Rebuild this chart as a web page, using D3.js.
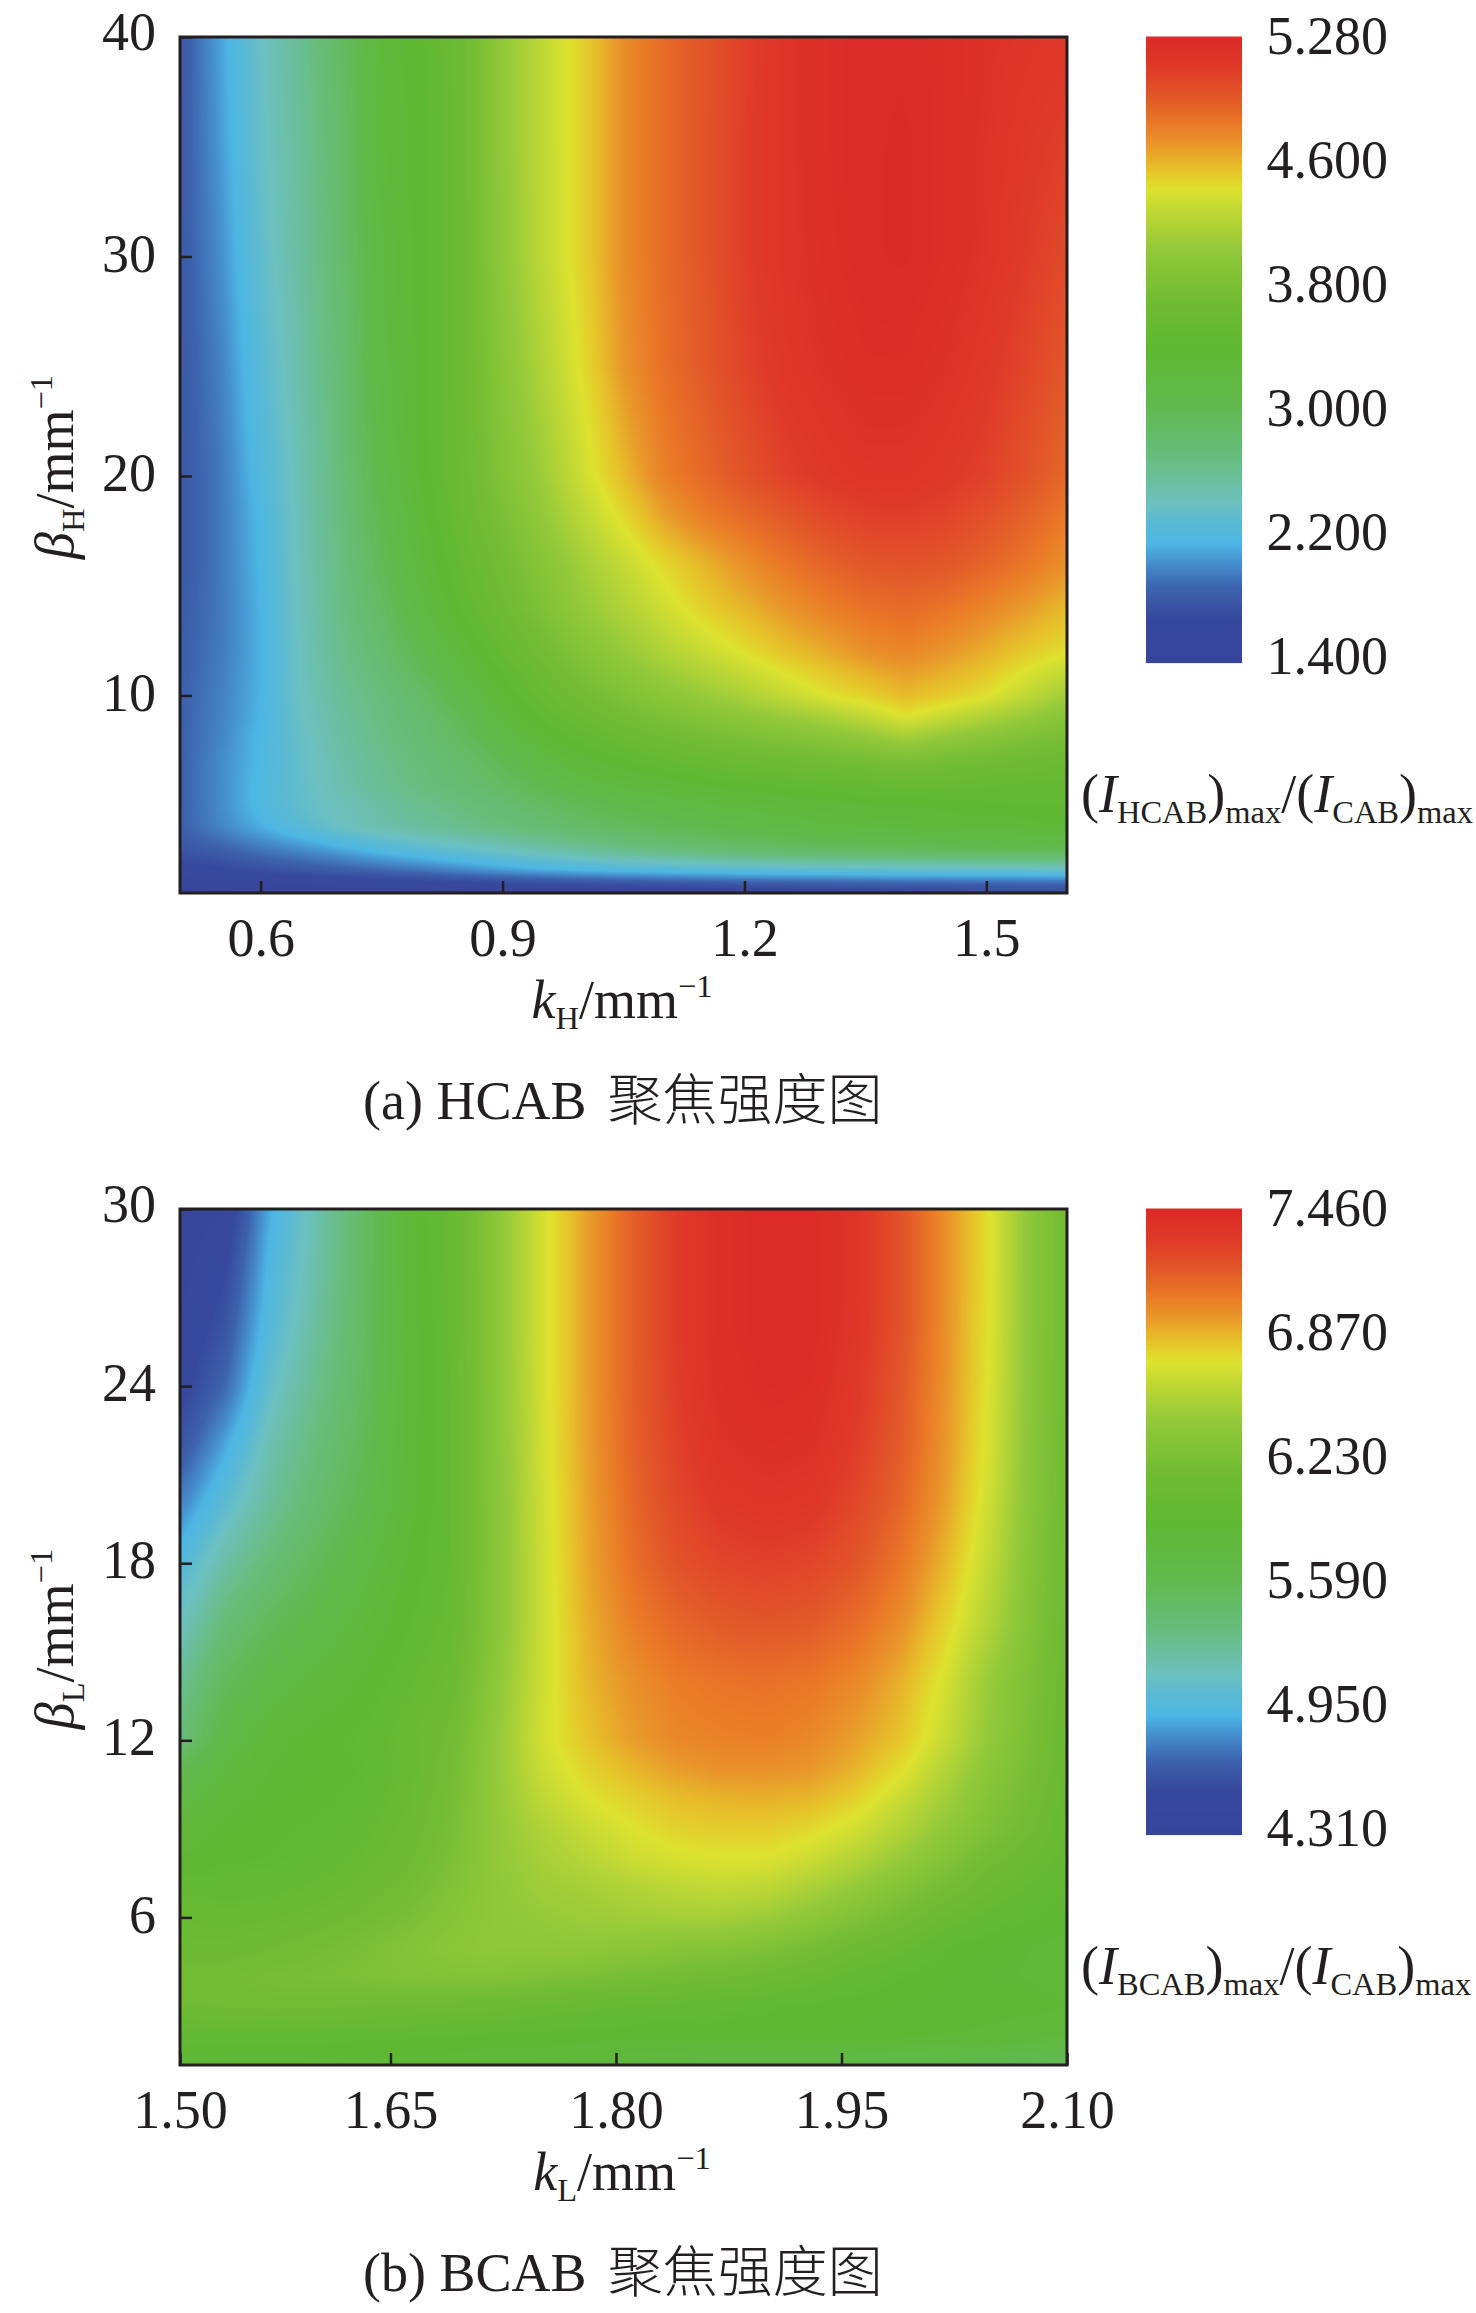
<!DOCTYPE html>
<html>
<head>
<meta charset="utf-8">
<script src="https://cdn.jsdelivr.net/npm/d3@7.9.0/dist/d3.min.js"></script>
<style>
  html, body { margin: 0; padding: 0; background: #fff; }
  svg { display: block; }
  text { font-family: "Liberation Serif", serif; font-size: 54px; fill: #231f20; }
  .sub { font-size: 32.5px; }
  .cjk { font-family: "Noto Sans CJK SC", sans-serif; font-size: 55px; font-weight: 300; }
</style>
</head>
<body>
<svg id="fig" width="1476" height="2313"></svg>
<script>
// values
const kH = [0.5,0.55,0.6,0.65,0.7,0.75,0.8,0.85,0.9,0.95,1.0,1.05,1.1,1.15,1.2,1.25,1.3,1.35,1.4,1.45,1.5,1.55,1.6];
const betaH = [1,1.5,2,3,4,5,6,7,8,9,10,12,14,16,18,20,25,30,35,40];
const intensityH = [
  [1.42,1.42,1.43,1.44,1.45,1.46,1.47,1.48,1.49,1.5,1.5,1.51,1.52,1.53,1.54,1.55,1.56,1.58,1.6,1.62,1.64,1.66,1.68],
  [1.47,1.5,1.52,1.55,1.58,1.62,1.65,1.68,1.72,1.75,1.78,1.8,1.82,1.84,1.86,1.87,1.88,1.89,1.9,1.9,1.91,1.91,1.92],
  [1.6,1.66,1.72,1.78,1.83,1.88,1.93,2.0,2.07,2.12,2.16,2.19,2.21,2.23,2.25,2.27,2.28,2.29,2.3,2.31,2.32,2.33,2.34],
  [1.78,1.85,1.95,2.03,2.12,2.22,2.3,2.37,2.44,2.52,2.6,2.68,2.74,2.8,2.85,2.9,2.93,2.96,2.98,3.0,3.02,3.03,3.05],
  [1.85,2.0,2.14,2.28,2.42,2.5,2.58,2.65,2.72,2.8,2.87,2.93,3.0,3.05,3.1,3.15,3.2,3.23,3.25,3.28,3.3,3.32,3.35],
  [1.85,2.02,2.2,2.35,2.45,2.55,2.64,2.72,2.8,2.9,3.0,3.08,3.14,3.2,3.25,3.29,3.32,3.35,3.37,3.39,3.41,3.43,3.45],
  [1.85,2.02,2.2,2.36,2.5,2.62,2.72,2.8,2.92,3.05,3.18,3.26,3.32,3.38,3.42,3.46,3.5,3.53,3.56,3.55,3.53,3.51,3.5],
  [1.85,2.02,2.18,2.36,2.52,2.64,2.74,2.85,3.0,3.18,3.32,3.42,3.5,3.56,3.62,3.66,3.7,3.75,3.8,3.75,3.7,3.65,3.6],
  [1.85,2.0,2.18,2.38,2.55,2.68,2.78,2.92,3.12,3.32,3.47,3.57,3.66,3.74,3.8,3.86,3.92,4.0,4.1,4.0,3.92,3.83,3.75],
  [1.85,1.99,2.16,2.4,2.57,2.7,2.82,3.0,3.25,3.45,3.6,3.72,3.82,3.9,3.98,4.06,4.15,4.27,4.42,4.3,4.18,4.05,3.92],
  [1.85,1.98,2.15,2.42,2.6,2.72,2.88,3.1,3.35,3.55,3.72,3.85,3.97,4.07,4.17,4.3,4.42,4.5,4.58,4.52,4.44,4.28,4.12],
  [1.83,1.96,2.14,2.43,2.65,2.82,3.05,3.3,3.52,3.72,3.9,4.05,4.2,4.32,4.44,4.55,4.63,4.72,4.76,4.7,4.62,4.52,4.44],
  [1.82,1.95,2.15,2.45,2.68,2.9,3.2,3.45,3.65,3.85,4.05,4.2,4.35,4.5,4.6,4.7,4.78,4.84,4.87,4.83,4.76,4.68,4.58],
  [1.8,1.95,2.17,2.46,2.7,2.98,3.28,3.52,3.72,3.93,4.13,4.3,4.47,4.6,4.72,4.82,4.9,4.96,4.98,4.96,4.9,4.82,4.72],
  [1.8,1.95,2.18,2.47,2.72,3.03,3.33,3.58,3.8,4.03,4.25,4.45,4.65,4.78,4.86,4.94,5.02,5.07,5.08,5.05,4.98,4.9,4.8],
  [1.8,1.95,2.22,2.48,2.74,3.1,3.38,3.62,3.88,4.1,4.35,4.58,4.78,4.88,4.98,5.07,5.13,5.17,5.17,5.13,5.07,4.98,4.88],
  [1.8,1.98,2.28,2.53,2.78,3.18,3.4,3.63,3.95,4.2,4.45,4.7,4.85,4.95,5.06,5.15,5.2,5.24,5.24,5.2,5.13,5.05,4.96],
  [1.8,2.03,2.34,2.57,2.82,3.22,3.4,3.63,4.0,4.27,4.5,4.73,4.87,4.97,5.09,5.17,5.23,5.27,5.28,5.24,5.18,5.1,5.03],
  [1.8,2.07,2.38,2.59,2.85,3.27,3.4,3.63,4.02,4.28,4.5,4.73,4.87,4.97,5.09,5.17,5.24,5.27,5.28,5.24,5.19,5.13,5.08],
  [1.78,2.1,2.4,2.62,2.9,3.3,3.42,3.63,4.02,4.28,4.5,4.73,4.87,4.97,5.08,5.17,5.24,5.27,5.27,5.24,5.2,5.17,5.14]
];

const kL = [1.51,1.54,1.57,1.6,1.63,1.66,1.69,1.72,1.75,1.78,1.81,1.84,1.87,1.9,1.93,1.96,1.99,2.02,2.05,2.08,2.1];
const betaL = [1,2,3,4,5,6,7,8,9,10,11,12,14,16,18,20,22,24,26,28,30];
const intensityL = [
  [5.88,5.87,5.87,5.86,5.86,5.85,5.84,5.82,5.8,5.78,5.75,5.74,5.72,5.7,5.69,5.68,5.66,5.64,5.6,5.57,5.53],
  [5.95,5.96,5.96,5.96,5.95,5.95,5.93,5.92,5.92,5.91,5.9,5.9,5.9,5.9,5.9,5.9,5.9,5.88,5.86,5.84,5.82],
  [6.13,6.14,6.15,6.14,6.13,6.12,6.1,6.08,6.05,6.02,6.0,5.98,5.96,5.94,5.92,5.91,5.9,5.9,5.9,5.89,5.88],
  [6.15,6.17,6.2,6.23,6.26,6.28,6.3,6.3,6.27,6.24,6.2,6.17,6.14,6.1,6.04,5.97,5.93,5.9,5.88,5.87,5.85],
  [6.08,6.08,6.12,6.17,6.23,6.3,6.36,6.4,6.4,6.4,6.38,6.34,6.32,6.28,6.2,6.1,6.03,5.93,5.9,5.87,5.85],
  [6.05,6.03,6.04,6.08,6.14,6.22,6.32,6.4,6.43,6.46,6.48,6.5,6.5,6.46,6.38,6.28,6.17,6.05,5.97,5.93,5.9],
  [5.98,5.97,5.98,6.01,6.07,6.16,6.28,6.4,6.47,6.5,6.55,6.6,6.62,6.6,6.52,6.42,6.3,6.18,6.06,5.98,5.93],
  [5.88,5.92,5.93,5.96,6.01,6.1,6.24,6.41,6.5,6.58,6.66,6.7,6.72,6.72,6.66,6.56,6.44,6.3,6.15,6.05,5.97],
  [5.82,5.9,5.92,5.94,5.98,6.07,6.21,6.41,6.54,6.64,6.72,6.78,6.8,6.8,6.76,6.68,6.55,6.4,6.25,6.12,6.0],
  [5.72,5.85,5.9,5.91,5.95,6.04,6.19,6.42,6.6,6.72,6.78,6.84,6.87,6.88,6.86,6.78,6.64,6.48,6.3,6.15,6.03],
  [5.6,5.78,5.88,5.9,5.93,6.02,6.17,6.42,6.65,6.77,6.86,6.93,6.97,6.97,6.95,6.87,6.74,6.55,6.35,6.18,6.05],
  [5.4,5.7,5.85,5.91,5.95,6.03,6.15,6.42,6.68,6.82,6.93,7.0,7.02,7.03,7.0,6.92,6.82,6.63,6.4,6.2,6.06],
  [5.28,5.55,5.7,5.8,5.88,5.98,6.08,6.38,6.66,6.86,6.97,7.04,7.07,7.08,7.06,7.0,6.88,6.69,6.43,6.22,6.08],
  [5.12,5.4,5.56,5.68,5.8,5.92,6.03,6.34,6.65,6.88,7.03,7.12,7.17,7.19,7.17,7.1,6.98,6.78,6.54,6.26,6.1],
  [4.98,5.22,5.4,5.56,5.72,5.88,6.0,6.34,6.65,6.9,7.08,7.2,7.26,7.28,7.26,7.19,7.06,6.86,6.6,6.28,6.12],
  [4.78,5.05,5.26,5.44,5.62,5.84,6.0,6.34,6.66,6.91,7.11,7.25,7.33,7.36,7.34,7.25,7.12,6.92,6.65,6.3,6.13],
  [4.6,4.88,5.18,5.37,5.56,5.83,6.0,6.35,6.67,6.92,7.13,7.28,7.38,7.41,7.4,7.3,7.16,6.95,6.68,6.3,6.14],
  [4.48,4.7,5.08,5.3,5.52,5.82,6.0,6.35,6.68,6.92,7.14,7.3,7.41,7.44,7.43,7.33,7.18,6.96,6.7,6.31,6.15],
  [4.42,4.6,5.0,5.24,5.49,5.82,6.01,6.36,6.68,6.92,7.14,7.31,7.42,7.45,7.45,7.35,7.2,6.97,6.71,6.32,6.15],
  [4.38,4.52,4.95,5.2,5.48,5.83,6.02,6.36,6.68,6.92,7.14,7.31,7.42,7.45,7.45,7.36,7.2,6.97,6.72,6.32,6.15],
  [4.36,4.42,4.9,5.18,5.47,5.84,6.02,6.36,6.68,6.92,7.14,7.31,7.42,7.45,7.45,7.36,7.2,6.97,6.72,6.32,6.15]
];

const barTicksH = [1.4,2.2,3.0,3.8,4.6,5.28];
const barTicksL = [4.31,4.95,5.59,6.23,6.87,7.46];
const xTicksH = [0.6,0.9,1.2,1.5];
const yTicksH = [10,20,30,40];
const xTicksL = [1.51,1.65,1.8,1.95,2.1];
const xLabelsL = ["1.50","1.65","1.80","1.95","2.10"];
const yTicksL = [6,12,18,24,30];

// colormap stops, position along the bar 0..1
const cmapPos = [0,.07,.117,.16,.19,.225,.254,.33,.41,.5,.58,.66,.72,.755,.785,.83,.86,.9,.95,1];
const cmapCol = ["#36469b","#37499e","#3d62ad","#4690cd","#4db6e4","#5bbad2","#6cc0c0","#68bd7c","#61b94f","#5fb832","#72bc33","#93c93a","#c0d835","#dde22f","#e6c52a","#e9942a","#ea7a27","#e35a29","#df3a29","#dc2a28"];
const cmap = d3.scaleLinear().domain(cmapPos).range(cmapCol).clamp(true);

const svg = d3.select("#fig");
const ink = "#231f20";

function lookup(arr, v) {
  let i = Math.min(d3.bisectRight(arr, v) - 1, arr.length - 2);
  if (i < 0) i = 0;
  return [i, (v - arr[i]) / (arr[i + 1] - arr[i])];
}

function boxBlur(f, w, h, r) {
  const out = new Float32Array(f.length);
  for (let y = 0; y < h; y++) for (let x = 0; x < w; x++) {
    let s = 0;
    for (let d = -r; d <= r; d++) s += f[y * w + Math.min(w - 1, Math.max(0, x + d))];
    out[y * w + x] = s / (2 * r + 1);
  }
  const res = new Float32Array(f.length);
  for (let y = 0; y < h; y++) for (let x = 0; x < w; x++) {
    let s = 0;
    for (let d = -r; d <= r; d++) s += out[Math.min(h - 1, Math.max(0, y + d)) * w + x];
    res[y * w + x] = s / (2 * r + 1);
  }
  return res;
}

function heatImage(x, y, ks, betas, grid, toBar) {
  const [x0, x1] = x.range(), [y1, y0] = y.range();
  const w = Math.round(x1 - x0), h = Math.round(y1 - y0);
  let field = new Float32Array(w * h);
  for (let j = 0; j < h; j++) {
    const [r, fr] = lookup(betas, y.invert(y0 + j + .5));
    for (let i = 0; i < w; i++) {
      const [c, fc] = lookup(ks, x.invert(x0 + i + .5));
      const top = grid[r][c] * (1 - fc) + grid[r][c + 1] * fc;
      const bot = grid[r + 1][c] * (1 - fc) + grid[r + 1][c + 1] * fc;
      field[j * w + i] = top * (1 - fr) + bot * fr;
    }
  }
  field = boxBlur(boxBlur(field, w, h, 4), w, h, 4);
  const cv = document.createElement("canvas");
  cv.width = w; cv.height = h;
  const ctx = cv.getContext("2d");
  const img = ctx.createImageData(w, h);
  for (let k = 0; k < w * h; k++) {
    const c = d3.rgb(cmap(toBar(field[k])));
    img.data[4 * k] = c.r; img.data[4 * k + 1] = c.g; img.data[4 * k + 2] = c.b; img.data[4 * k + 3] = 255;
  }
  ctx.putImageData(img, 0, 0);
  return cv.toDataURL();
}

// text made of runs: [string, kind] kind: n normal, i italic, s sub, u sup
function mixedText(g, px, py, runs, anchor, rotate) {
  const t = g.append("text").attr("text-anchor", anchor || "start")
    .attr("transform", `translate(${px},${py})` + (rotate ? ` rotate(${rotate})` : ""));
  let shift = 0;
  runs.forEach(([s, kind]) => {
    const sp = t.append("tspan").text(s);
    let target = 0;
    if (kind === "i") sp.attr("font-style", "italic");
    if (kind === "s") { sp.attr("class", "sub"); target = 11; }
    if (kind === "u") { sp.attr("class", "sub"); target = -21; }
    sp.attr("dy", target - shift);
    shift = target;
  });
}

function panel(cfg) {
  const g = svg.append("g").attr("transform", `translate(0,${cfg.top})`);
  const x = d3.scaleLinear().domain(cfg.xDomain).range([180, 1067]);
  const y = d3.scaleLinear().domain(cfg.yDomain).range([856, 0]);
  const barPos = d3.scaleLinear().domain(cfg.barTicks).range([0, .2, .4, .6, .8, 1]);

  g.append("image").attr("x", 180).attr("y", 0).attr("width", 887).attr("height", 856)
    .attr("preserveAspectRatio", "none")
    .attr("href", heatImage(x, y, cfg.ks, cfg.betas, cfg.grid, barPos));

  const xAxis = g.append("g").attr("transform", "translate(0,856)")
    .call(d3.axisBottom(x).tickValues(cfg.xTicks).tickFormat((d, i) => cfg.xLabels[i]).tickSize(-12).tickPadding(0));
  const yAxis = g.append("g").attr("transform", "translate(180,0)")
    .call(d3.axisLeft(y).tickValues(cfg.yTicks).tickSize(-12).tickPadding(0));
  xAxis.select(".domain").remove();
  yAxis.select(".domain").remove();
  xAxis.selectAll("line").attr("stroke", ink).attr("stroke-width", 2.5);
  yAxis.selectAll("line").attr("stroke", ink).attr("stroke-width", 2.5);
  xAxis.selectAll("text").attr("fill", ink).attr("font-size", null).attr("font-family", null)
    .attr("y", 63).attr("dy", null);
  yAxis.selectAll("text").attr("fill", ink).attr("font-size", null).attr("font-family", null)
    .attr("x", -24).attr("dy", "0.27em")
    .filter(d => d === cfg.yDomain[1]).attr("dy", "0.24em");

  g.append("rect").attr("x", 180).attr("y", 0).attr("width", 887).attr("height", 856)
    .attr("fill", "none").attr("stroke", ink).attr("stroke-width", 3);

  // colour bar
  const barY = d3.scaleLinear().domain([0, 1]).range([626, 0]);
  const labelY = d3.scaleLinear().domain([0, 1]).range([619, -1]);
  const bar = g.append("g");
  bar.selectAll("rect").data(d3.range(0, 1, 1 / 626)).join("rect")
    .attr("x", 1146).attr("width", 96)
    .attr("y", d => barY(d) - 1.5).attr("height", 1.6)
    .attr("fill", d => cmap(d));
  g.append("g").selectAll("text").data(cfg.barTicks).join("text")
    .attr("x", 1388).attr("text-anchor", "end")
    .attr("y", d => labelY(barPos(d)))
    .attr("dy", "0.34em")
    .text(d => d.toFixed(3));

  mixedText(g, 622, 981, [["k", "i"], [cfg.sub, "s"], ["/mm", "n"], ["\u22121", "u"]], "middle");
  mixedText(g, 73, 430, [["\u03b2", "i"], [cfg.sub, "s"], ["/mm", "n"], ["\u22121", "u"]], "middle", -90);
  mixedText(g, 1081, 775, [["(", "n"], ["I", "i"], [cfg.beam, "s"], [")", "n"], ["max", "s"], ["/(", "n"], ["I", "i"], ["CAB", "s"], [")", "n"], ["max", "s"]]);

  const cap = g.append("text").attr("x", 363).attr("y", 1082);
  cap.append("tspan").text(cfg.caption);
  cap.append("tspan").attr("class", "cjk").attr("dx", 9).text(" 聚焦强度图");
}

panel({
  top: 37, ks: kH, betas: betaH, grid: intensityH,
  xDomain: [0.5, 1.6], yDomain: [1, 40],
  xTicks: xTicksH, xLabels: xTicksH.map(d => d.toFixed(1)), yTicks: yTicksH,
  barTicks: barTicksH, sub: "H", beam: "HCAB", caption: "(a) HCAB"
});
panel({
  top: 1209, ks: kL, betas: betaL, grid: intensityL,
  xDomain: [1.51, 2.1], yDomain: [1, 30],
  xTicks: xTicksL, xLabels: xLabelsL, yTicks: yTicksL,
  barTicks: barTicksL, sub: "L", beam: "BCAB", caption: "(b) BCAB"
});
</script>
</body>
</html>
